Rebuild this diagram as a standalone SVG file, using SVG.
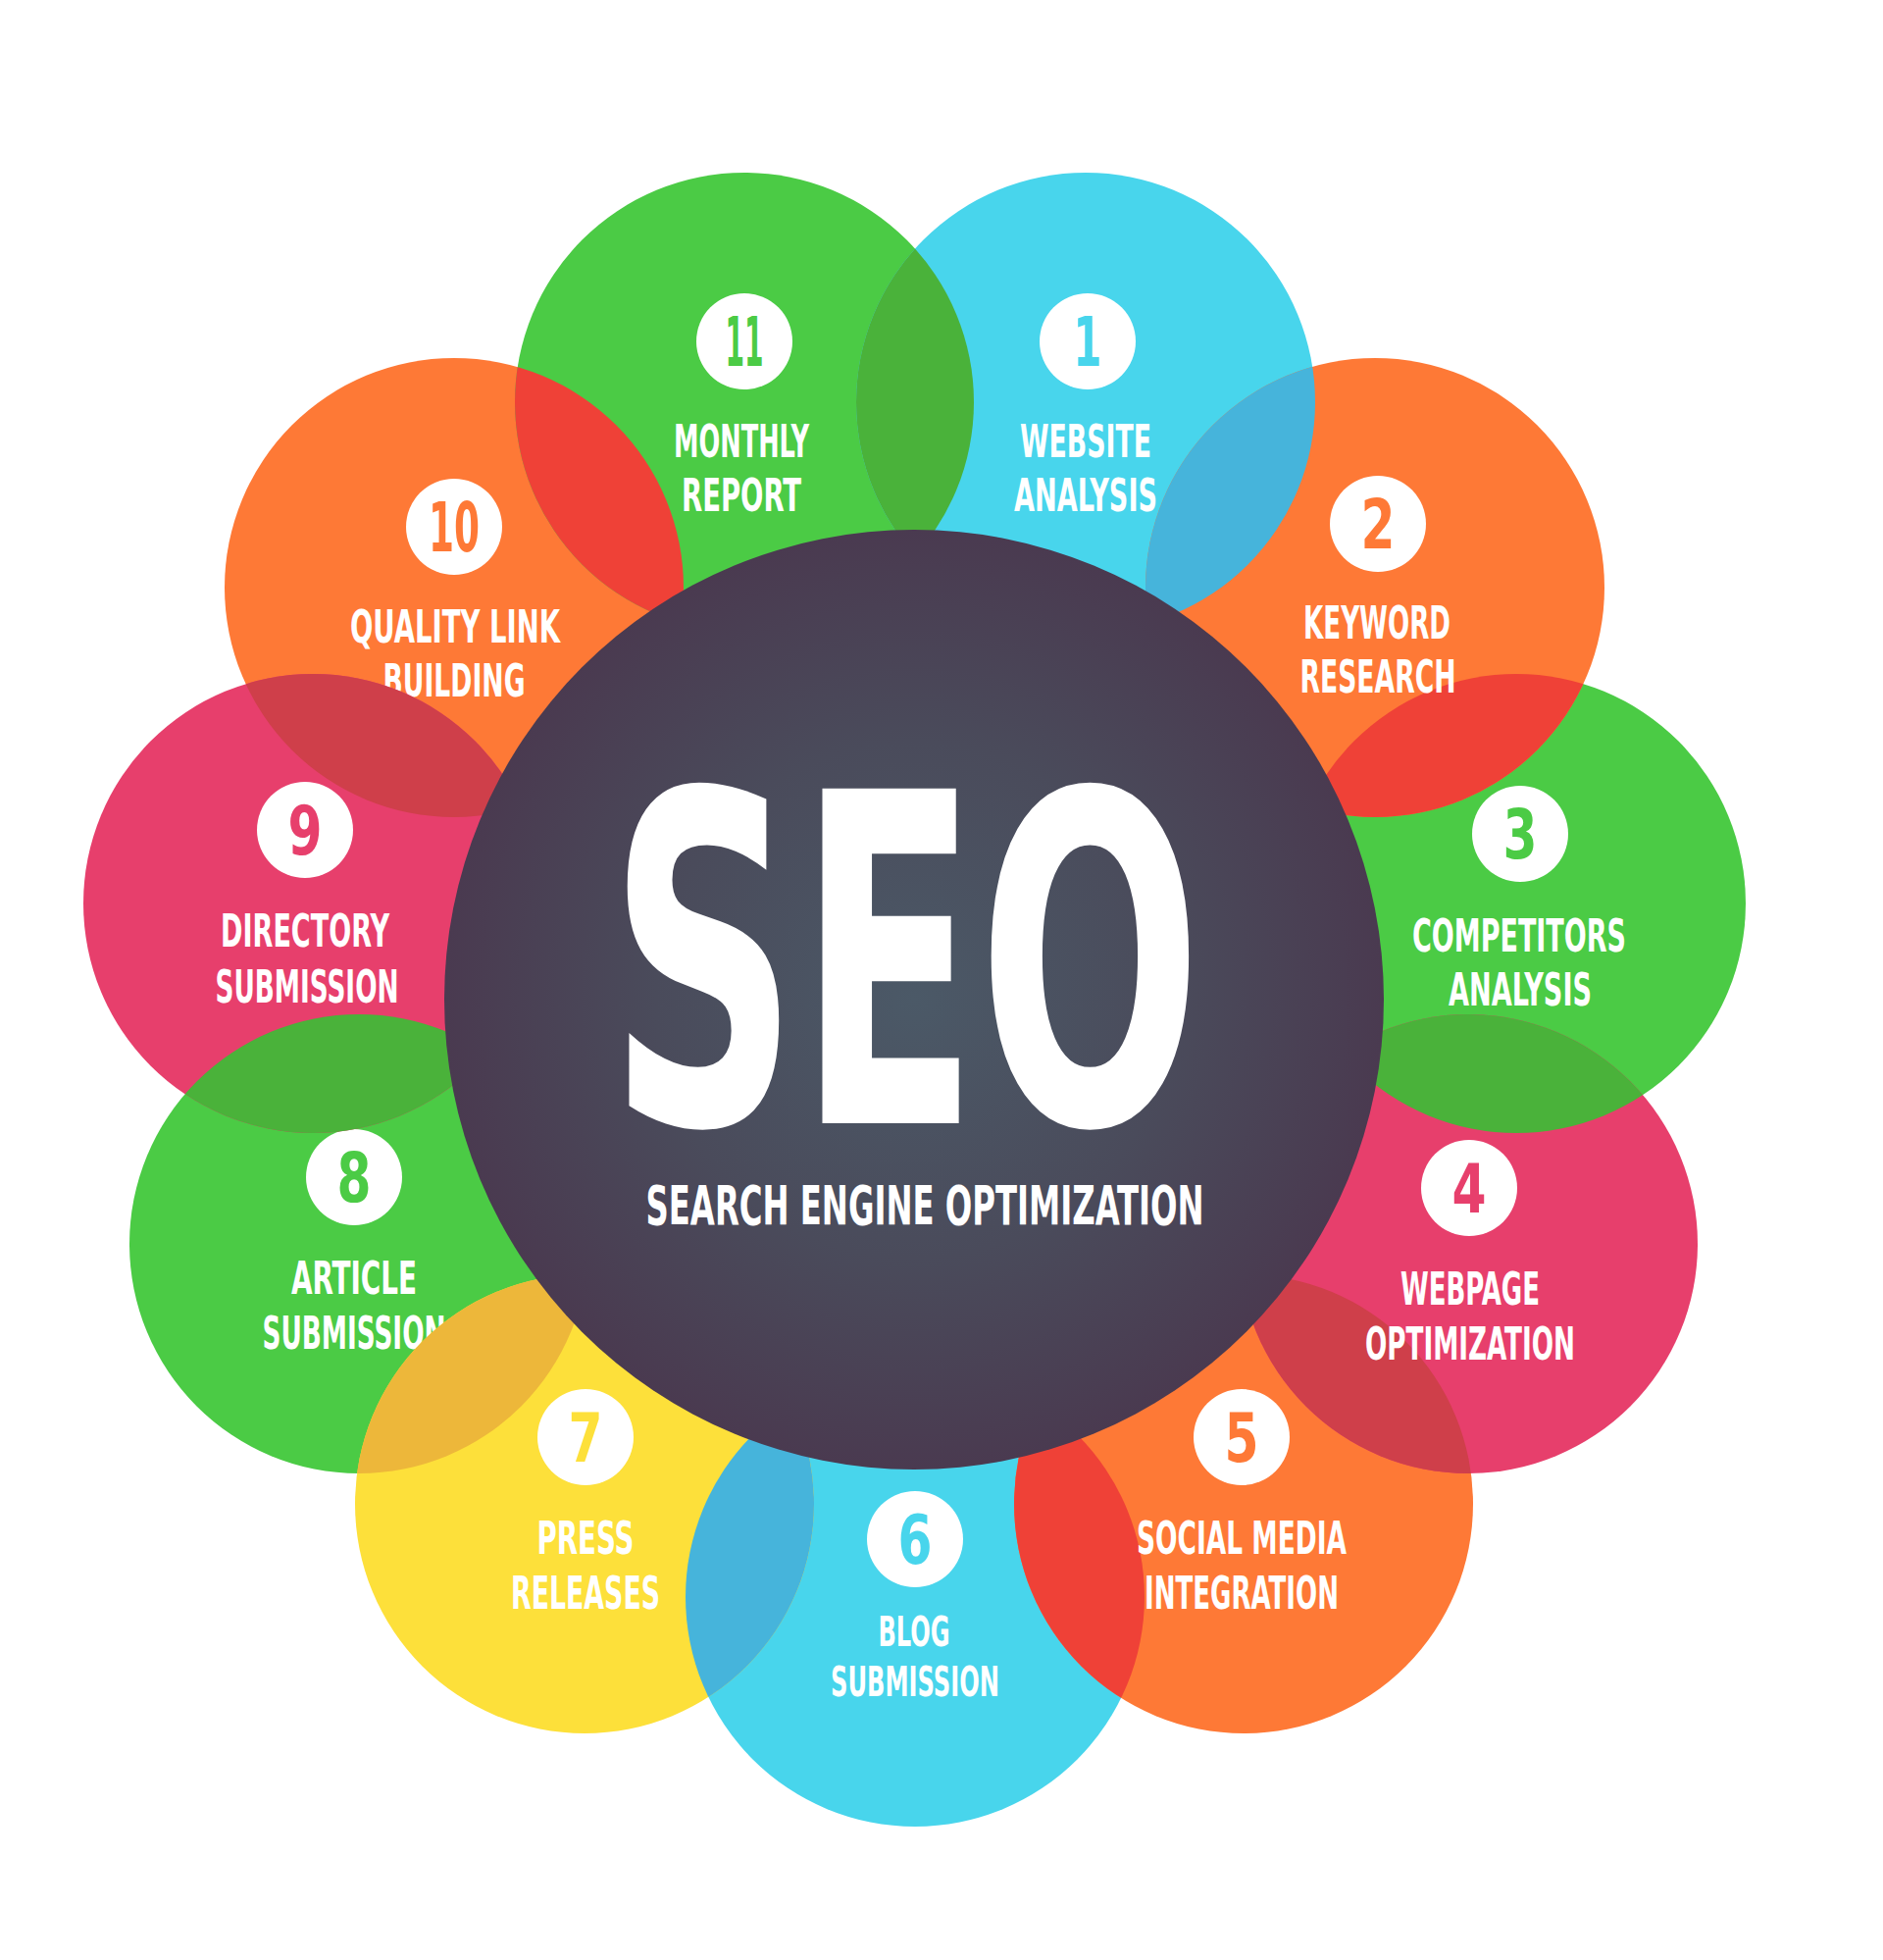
<svg xmlns="http://www.w3.org/2000/svg" width="1920" height="1998" viewBox="0 0 1920 1998">
<defs>
<radialGradient id="hub" cx="0.5" cy="0.5" r="0.5">
<stop offset="0" stop-color="#4B5967"/>
<stop offset="0.55" stop-color="#4A4B5B"/>
<stop offset="1" stop-color="#4A3A50"/>
</radialGradient>
<clipPath id="k1"><circle cx="1107" cy="410" r="234"/></clipPath>
<clipPath id="k3"><circle cx="1546" cy="921" r="234"/></clipPath>
<clipPath id="k5"><circle cx="1268" cy="1533" r="234"/></clipPath>
<clipPath id="k6"><circle cx="933" cy="1628" r="234"/></clipPath>
<clipPath id="k8"><circle cx="366" cy="1268" r="234"/></clipPath>
<clipPath id="k10"><circle cx="463" cy="599" r="234"/></clipPath>
<clipPath id="k11"><circle cx="759" cy="410" r="234"/></clipPath>
</defs>
<style>
.lbl{font-family:"DejaVu Sans Condensed","DejaVu Sans","Liberation Sans",sans-serif;font-weight:bold;font-size:47px;fill:#ffffff;text-anchor:middle}
.sm{font-size:43px}
.num{font-family:"DejaVu Sans Condensed","DejaVu Sans","Liberation Sans",sans-serif;font-weight:bold;font-size:70px;text-anchor:middle}
.badge{fill:#ffffff}
.g{fill:#4BCB45}
.c{fill:#48D5EC}
.o{fill:#FE7936}
.p{fill:#E73F6C}
.y{fill:#FDE03A}
.lr{fill:#EF4137}
.ldg{fill:#4AB23A}
.lb{fill:#46B4DB}
.ldr{fill:#CF3F4A}
.lm{fill:#EDB73A}
.seo{font-family:"DejaVu Sans Condensed","DejaVu Sans","Liberation Sans",sans-serif;font-weight:bold;font-size:468px;fill:#ffffff;text-anchor:middle}
.sub{font-family:"DejaVu Sans Condensed","DejaVu Sans","Liberation Sans",sans-serif;font-weight:bold;font-size:56px;fill:#ffffff;text-anchor:middle}
</style>
<rect width="1920" height="1998" fill="#ffffff"/>

<g id="node10">
<circle class="o" cx="463" cy="599" r="234"/>
<circle class="badge" cx="463" cy="537" r="49"/>
<text class="num o" x="463" y="562" textLength="52" lengthAdjust="spacingAndGlyphs">10</text>
<text class="lbl" x="464" y="655" textLength="214" lengthAdjust="spacingAndGlyphs">QUALITY LINK</text>
<text class="lbl" x="463" y="710" textLength="145" lengthAdjust="spacingAndGlyphs">BUILDING</text>
</g>

<g id="node11">
<circle class="g" cx="759" cy="410" r="234"/>
<circle class="lr" cx="759" cy="410" r="234" clip-path="url(#k10)"/>
<circle class="badge" cx="759" cy="348" r="49"/>
<text class="num g" x="759" y="373" textLength="39" lengthAdjust="spacingAndGlyphs">11</text>
<text class="lbl" x="756" y="466" textLength="138" lengthAdjust="spacingAndGlyphs">MONTHLY</text>
<text class="lbl" x="756" y="521" textLength="122" lengthAdjust="spacingAndGlyphs">REPORT</text>
</g>

<g id="node1">
<circle class="c" cx="1107" cy="410" r="234"/>
<circle class="ldg" cx="1107" cy="410" r="234" clip-path="url(#k11)"/>
<circle class="badge" cx="1109" cy="348" r="49"/>
<text class="num c" x="1109" y="373" textLength="29" lengthAdjust="spacingAndGlyphs">1</text>
<text class="lbl" x="1107" y="466" textLength="134" lengthAdjust="spacingAndGlyphs">WEBSITE</text>
<text class="lbl" x="1107" y="521" textLength="146" lengthAdjust="spacingAndGlyphs">ANALYSIS</text>
</g>

<g id="node3">
<circle class="g" cx="1546" cy="921" r="234"/>
<circle class="badge" cx="1550" cy="850" r="49"/>
<text class="num g" x="1550" y="875" textLength="35" lengthAdjust="spacingAndGlyphs">3</text>
<text class="lbl" x="1549" y="970" textLength="218" lengthAdjust="spacingAndGlyphs">COMPETITORS</text>
<text class="lbl" x="1550" y="1025" textLength="146" lengthAdjust="spacingAndGlyphs">ANALYSIS</text>
</g>

<g id="node2">
<circle class="o" cx="1402" cy="599" r="234"/>
<circle class="lb" cx="1402" cy="599" r="234" clip-path="url(#k1)"/>
<circle class="lr" cx="1402" cy="599" r="234" clip-path="url(#k3)"/>
<circle class="badge" cx="1405" cy="534" r="49"/>
<text class="num o" x="1405" y="559" textLength="35" lengthAdjust="spacingAndGlyphs">2</text>
<text class="lbl" x="1404" y="651" textLength="150" lengthAdjust="spacingAndGlyphs">KEYWORD</text>
<text class="lbl" x="1405" y="706" textLength="159" lengthAdjust="spacingAndGlyphs">RESEARCH</text>
</g>

<g id="node6">
<circle class="c" cx="933" cy="1628" r="234"/>
<circle class="badge" cx="933" cy="1569" r="49"/>
<text class="num c" x="933" y="1594" textLength="35" lengthAdjust="spacingAndGlyphs">6</text>
<text class="lbl sm" x="932" y="1678" textLength="73" lengthAdjust="spacingAndGlyphs">BLOG</text>
<text class="lbl sm" x="933" y="1729" textLength="172" lengthAdjust="spacingAndGlyphs">SUBMISSION</text>
</g>

<g id="node5">
<circle class="o" cx="1268" cy="1533" r="234"/>
<circle class="lr" cx="1268" cy="1533" r="234" clip-path="url(#k6)"/>
<circle class="badge" cx="1266" cy="1465" r="49"/>
<text class="num o" x="1266" y="1490" textLength="35" lengthAdjust="spacingAndGlyphs">5</text>
<text class="lbl" x="1266" y="1584" textLength="214" lengthAdjust="spacingAndGlyphs">SOCIAL MEDIA</text>
<text class="lbl" x="1266" y="1640" textLength="198" lengthAdjust="spacingAndGlyphs">INTEGRATION</text>
</g>

<g id="node4">
<circle class="p" cx="1497" cy="1268" r="234"/>
<circle class="ldg" cx="1497" cy="1268" r="234" clip-path="url(#k3)"/>
<circle class="ldr" cx="1497" cy="1268" r="234" clip-path="url(#k5)"/>
<circle class="badge" cx="1498" cy="1211" r="49"/>
<text class="num p" x="1498" y="1236" textLength="35" lengthAdjust="spacingAndGlyphs">4</text>
<text class="lbl" x="1499" y="1330" textLength="142" lengthAdjust="spacingAndGlyphs">WEBPAGE</text>
<text class="lbl" x="1499" y="1386" textLength="214" lengthAdjust="spacingAndGlyphs">OPTIMIZATION</text>
</g>

<g id="node8">
<circle class="g" cx="366" cy="1268" r="234"/>
<circle class="badge" cx="361" cy="1200" r="49"/>
<text class="num g" x="361" y="1225" textLength="35" lengthAdjust="spacingAndGlyphs">8</text>
<text class="lbl" x="361" y="1319" textLength="128" lengthAdjust="spacingAndGlyphs">ARTICLE</text>
<text class="lbl" x="361" y="1375" textLength="187" lengthAdjust="spacingAndGlyphs">SUBMISSION</text>
</g>

<g id="node9">
<circle class="p" cx="319" cy="921" r="234"/>
<circle class="ldr" cx="319" cy="921" r="234" clip-path="url(#k10)"/>
<circle class="ldg" cx="319" cy="921" r="234" clip-path="url(#k8)"/>
<circle class="badge" cx="311" cy="846" r="49"/>
<text class="num p" x="311" y="871" textLength="35" lengthAdjust="spacingAndGlyphs">9</text>
<text class="lbl" x="311" y="965" textLength="172" lengthAdjust="spacingAndGlyphs">DIRECTORY</text>
<text class="lbl" x="313" y="1022" textLength="187" lengthAdjust="spacingAndGlyphs">SUBMISSION</text>
</g>

<g id="node7">
<circle class="y" cx="596" cy="1533" r="234"/>
<circle class="lm" cx="596" cy="1533" r="234" clip-path="url(#k8)"/>
<circle class="lb" cx="596" cy="1533" r="234" clip-path="url(#k6)"/>
<circle class="badge" cx="597" cy="1465" r="49"/>
<text class="num y" x="597" y="1490" textLength="35" lengthAdjust="spacingAndGlyphs">7</text>
<text class="lbl" x="597" y="1584" textLength="99" lengthAdjust="spacingAndGlyphs">PRESS</text>
<text class="lbl" x="597" y="1640" textLength="152" lengthAdjust="spacingAndGlyphs">RELEASES</text>
</g>

<g id="hubnode">
<circle cx="932" cy="1019" r="479" fill="url(#hub)"/>
<text class="seo" x="923" y="1145" textLength="605" lengthAdjust="spacingAndGlyphs">SEO</text>
<text class="sub" x="943" y="1248" textLength="569" lengthAdjust="spacingAndGlyphs">SEARCH ENGINE OPTIMIZATION</text>
</g>

<g id="connectors"></g>
</svg>
